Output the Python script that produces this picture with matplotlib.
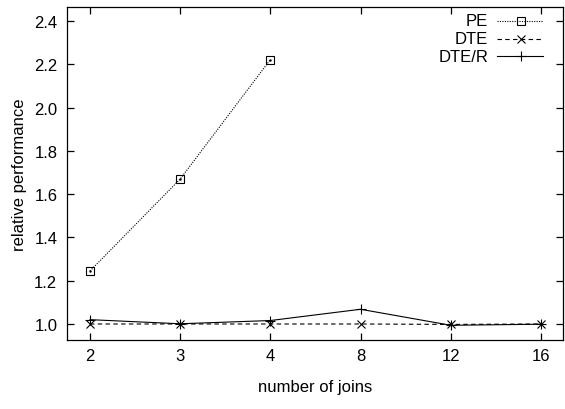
import matplotlib
matplotlib.use("Agg")
import matplotlib.pyplot as plt
from matplotlib.lines import Line2D

plt.rcParams['font.family'] = ['Liberation Sans', 'DejaVu Sans']

categories = ["2", "3", "4", "8", "12", "16"]
pe = [1.245, 1.670, 2.222]
dte = [1.0, 1.0, 1.0, 1.0, 0.998, 1.0]
dte_r = [1.020, 1.001, 1.016, 1.068, 0.994, 0.999]
yticks = [1.0, 1.2, 1.4, 1.6, 1.8, 2.0, 2.2, 2.4]

fs = 12
fig = plt.figure(figsize=(5.65, 4.10), dpi=100)
ax = fig.add_axes([67/565, 1-341/410, (563-67)/565, (341-8)/410])

x = list(range(len(categories)))
ms = 5.2
lw = 0.8
# PE
ax.plot(x[:len(pe)], pe, color='black', lw=lw, linestyle=(0, (1, 1.2)),
        marker='s', markersize=ms, markerfacecolor='none', markeredgewidth=0.8)
ax.plot(x[:len(pe)], pe, linestyle='none', marker='.', markersize=1.5, color='black')
# DTE
ax.plot(x, dte, color='black', lw=lw, linestyle=(0, (4, 3)),
        marker='x', markersize=ms, markeredgewidth=0.8)
# DTE/R
ax.plot(x, dte_r, color='black', lw=lw, linestyle='-',
        marker='+', markersize=ms + 1.5, markeredgewidth=0.8)

ax.set_xlim(-0.255, 5.245)
ax.set_ylim(0.926, 2.465)
ax.set_xticks(x)
ax.set_xticklabels(categories)
ax.set_yticks(yticks)
ax.set_yticklabels([f"{v:.1f}" for v in yticks])
ax.tick_params(direction='in', length=5, width=0.9, top=True, right=True,
               labelsize=fs, colors='black')
ax.tick_params(axis='x', pad=6)
ax.tick_params(axis='y', pad=7)
for s in ax.spines.values():
    s.set_linewidth(0.9)

ax.set_xlabel("number of joins", fontsize=fs, labelpad=11)
ax.set_ylabel("relative performance", fontsize=fs, labelpad=5)

# legend (gnuplot style: right-aligned text, sample to the right)
labels = ["PE", "DTE", "DTE/R"]
styles = [dict(linestyle=(0, (1, 1.2)), marker='s'),
          dict(linestyle=(0, (4, 3)), marker='x'),
          dict(linestyle='-', marker='+')]
ys = [22, 40, 57]
for lab, st, yy in zip(labels, styles, ys):
    yf = 1 - yy / 410
    fig.text(488/565, yf, lab, ha='right', va='center', fontsize=fs)
    fig.add_artist(Line2D([497/565, 543/565], [yf, yf], color='black', lw=lw,
                          linestyle=st['linestyle'], transform=fig.transFigure))
    fig.add_artist(Line2D([520.5/565], [yf], color='black', linestyle='none',
                          marker=st['marker'], markersize=ms + (1.5 if st['marker'] == '+' else 0),
                          markerfacecolor='none', markeredgewidth=0.8,
                          transform=fig.transFigure))

fig.savefig("out.png", dpi=100)
